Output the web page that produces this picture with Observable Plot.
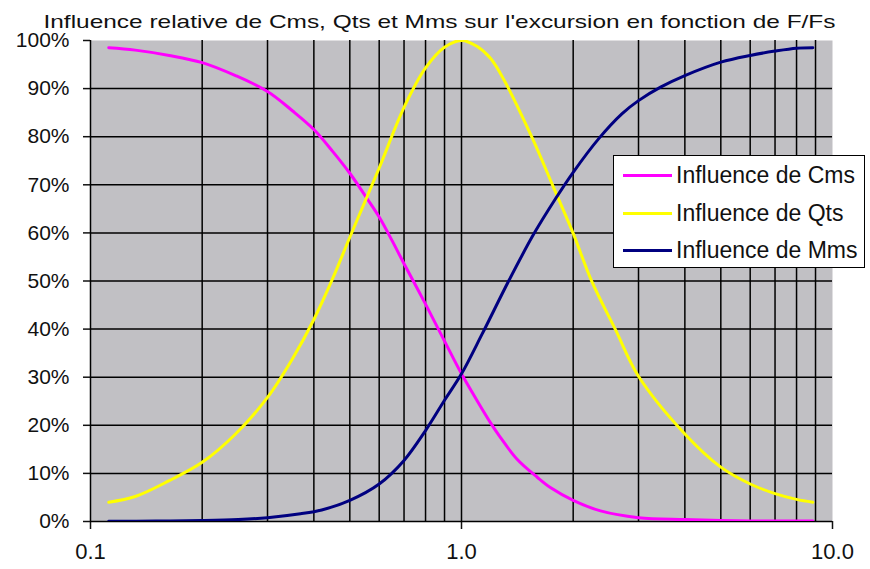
<!DOCTYPE html>
<html>
<head>
<meta charset="utf-8">
<script src="https://cdn.jsdelivr.net/npm/d3@7"></script>
<script src="https://cdn.jsdelivr.net/npm/@observablehq/plot@0.6"></script>
<style>
  html, body { margin: 0; padding: 0; background: white; }
  #wrap { position: relative; width: 870px; height: 569px; font-family: 'Liberation Sans', Arial, sans-serif; }
  #legend { position: absolute; left: 613px; top: 155px; width: 252px; height: 113px; box-sizing: border-box;
            border: 1px solid black; background: white; }
  .row { position: absolute; left: 0; height: 30px; width: 100%; }
  .sw { position: absolute; left: 9px; width: 49px; height: 3px; top: 14px; }
  .lab { position: absolute; left: 62px; top: 0; font-size: 23px; line-height: 30px; color: #111; white-space: nowrap; }
</style>
</head>
<body>
<div id="wrap"></div>
<script>
// ---- data ----
const title = "Influence relative de Cms, Qts et Mms sur l'excursion en fonction de F/Fs";
const seriesNames = ["Influence de Cms", "Influence de Qts", "Influence de Mms"];
const seriesColors = ["#ff00ff", "#ffff00", "#000080"];

const cmsX = [0.112, 0.132, 0.163, 0.2, 0.246, 0.3, 0.35, 0.4, 0.45, 0.5, 0.557, 0.6, 0.65, 0.7, 0.8, 0.9, 1.0, 1.1, 1.2, 1.27, 1.41, 1.6, 1.74, 2.0, 2.37, 3.0, 4.0, 5.0, 6.0, 7.0, 8.0, 8.85];
const cmsY = [98.5, 98.0, 96.9, 95.4, 92.7, 89.4, 85.4, 81.5, 76.9, 72.4, 67.1, 63.3, 58.4, 53.6, 45.2, 37.5, 30.7, 25.2, 20.4, 17.6, 13.0, 9.2, 7.0, 4.4, 2.2, 0.8, 0.4, 0.2, 0.1, 0.1, 0.1, 0.1];

const qtsX = [0.112, 0.132, 0.163, 0.2, 0.246, 0.3, 0.35, 0.4, 0.45, 0.5, 0.6, 0.7, 0.8, 0.9, 1.0, 1.1, 1.197, 1.3, 1.55, 1.756, 2.0, 2.248, 2.6, 3.0, 4.0, 5.0, 6.0, 7.0, 8.0, 8.85];
const qtsY = [4.0, 5.2, 8.5, 12.3, 18.2, 25.8, 33.8, 42.0, 50.6, 59.1, 73.5, 86.1, 94.3, 98.6, 100, 98.8, 96.3, 91.9, 79.8, 70.1, 59.9, 49.8, 39.9, 30.2, 18.2, 11.3, 7.8, 5.8, 4.6, 4.0];

const mmsX = [0.112, 0.15, 0.2, 0.25, 0.3, 0.368, 0.42, 0.5, 0.6, 0.7, 0.8, 0.9, 1.0, 1.137, 1.342, 1.567, 1.792, 2.0, 2.344, 2.71, 3.0, 3.44, 4.0, 5.0, 6.0, 7.0, 8.0, 8.85];
const mmsY = [0.05, 0.1, 0.2, 0.4, 0.8, 1.6, 2.4, 4.4, 7.8, 12.7, 18.9, 25.2, 30.7, 39.0, 50.1, 59.8, 67.1, 72.6, 79.6, 84.8, 87.5, 90.3, 92.7, 95.5, 96.9, 97.8, 98.4, 98.5];

const xTicks = [0.1, 1, 10];
const xTickLabels = ["0.1", "1.0", "10.0"];
const xGrid = [0.2, 0.3, 0.4, 0.5, 0.6, 0.7, 0.8, 0.9, 1, 2, 3, 4, 5, 6, 7, 8, 9];
const yTicks = [0, 10, 20, 30, 40, 50, 60, 70, 80, 90, 100];
const yGrid = [10, 20, 30, 40, 50, 60, 70, 80, 90];

// ---- build table ----
const rows = [];
[[cmsX, cmsY], [qtsX, qtsY], [mmsX, mmsY]].forEach(([xs, ys], k) => {
  xs.forEach((x, i) => rows.push({series: seriesNames[k], x, y: ys[i]}));
});

const chart = Plot.plot({
  width: 870,
  height: 569,
  marginLeft: 90,
  marginRight: 38,
  marginTop: 40,
  marginBottom: 48,
  style: {fontFamily: "'Liberation Sans', Arial, sans-serif", fontSize: "21px", background: "white", color: "#111", overflow: "visible"},
  x: {type: "log", domain: [0.1, 10], label: null},
  y: {domain: [0, 100], label: null},
  color: {domain: seriesNames, range: seriesColors},
  marks: [
    Plot.frame({fill: "#c1c0c4", stroke: null}),
    Plot.ruleX(xGrid, {stroke: "#000", strokeWidth: 1.5}),
    Plot.ruleY(yGrid, {stroke: "#000", strokeWidth: 1.5}),
    Plot.axisX({ticks: xTicks, tickFormat: d => xTickLabels[xTicks.findIndex(t => Math.abs(t - d) < 1e-9)], tickSize: 8, tickPadding: 14, strokeWidth: 1.5, fontSize: 22, label: null}),
    Plot.axisY({ticks: yTicks, tickFormat: d => d + "%", tickSize: 7, tickPadding: 14, strokeWidth: 1.5, fontSize: 21, label: null}),
    Plot.ruleX([0.1], {stroke: "#000", strokeWidth: 1.5}),
    Plot.ruleY([0], {stroke: "#000", strokeWidth: 1.5}),
    Plot.line(rows, {x: "x", y: "y", z: "series", stroke: "series", strokeWidth: 3, curve: "catmull-rom", clip: true}),
    Plot.text([title], {frameAnchor: "top", dx: -22, dy: -26, fontSize: 19, fill: "#111"})
  ]
});

const wrap = document.getElementById("wrap");
wrap.appendChild(chart);

// stretch title to reference width
const titleNode = Array.from(chart.querySelectorAll("text")).find(t => t.textContent === title);
if (titleNode) {
  titleNode.setAttribute("textLength", 792);
  titleNode.setAttribute("lengthAdjust", "spacingAndGlyphs");
}

// legend (HTML overlay)
const leg = document.createElement("div");
leg.id = "legend";
seriesNames.forEach((name, i) => {
  const r = document.createElement("div");
  r.className = "row";
  r.style.top = (4 + i * 37.5) + "px";
  const sw = document.createElement("div");
  sw.className = "sw";
  sw.style.background = seriesColors[i];
  const lab = document.createElement("div");
  lab.className = "lab";
  lab.textContent = name;
  r.appendChild(sw); r.appendChild(lab);
  leg.appendChild(r);
});
wrap.appendChild(leg);
</script>
</body>
</html>
